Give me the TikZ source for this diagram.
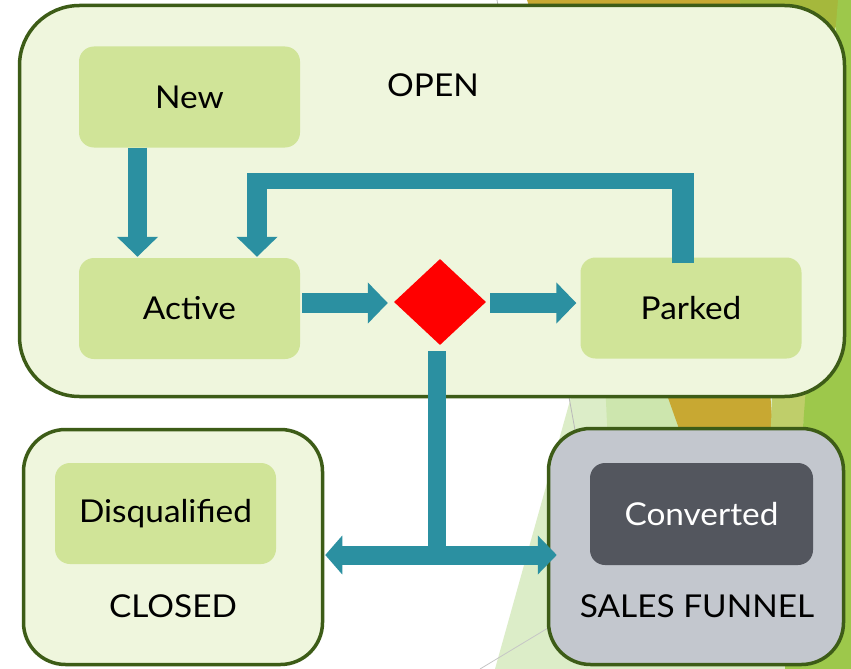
\documentclass[tikz,border=0pt]{standalone}
\usepackage{fontspec}
\setmainfont{Lato}[FakeStretch=1.06]
\usetikzlibrary{arrows.meta,shapes.geometric}
\definecolor{boxfill}{HTML}{EFF6DD}
\definecolor{boxline}{HTML}{3D5C17}
\definecolor{statefill}{HTML}{D0E498}
\definecolor{salesfill}{HTML}{C3C7CE}
\definecolor{convfill}{HTML}{53565E}
\definecolor{teal}{HTML}{2B90A1}
\definecolor{bglight}{HTML}{DCEDC8}
\definecolor{bgmid}{HTML}{CDE6AE}
\definecolor{bggold}{HTML}{C8A832}
\definecolor{bgtan}{HTML}{BFCE6A}
\definecolor{bgolive}{HTML}{A5B83C}
\definecolor{bggreen}{HTML}{9DC84B}
\tikzset{
  outerbox/.style={draw=boxline, line width=3.5pt, rounded corners=#1, inner sep=0pt},
  statebox/.style={fill=statefill, rounded corners=15pt, minimum width=221pt, minimum height=101pt, inner sep=0pt, font=\fontsize{31.5}{37}\selectfont},
  lbl/.style={font=\fontsize{31.5}{37}\selectfont, inner sep=0pt, anchor=base},
  flow/.style={draw=teal, line width=20pt},
  flowtip/.style={-{Triangle[length=20pt,width=40pt]}},
}
\begin{document}
\begin{tikzpicture}[x=1pt,y=-1pt]
\useasboundingbox (0,0) rectangle (851,669);
\fill[white] (0,0) rectangle (851,669);
% background decoration
\fill[bglight] (495,669) -- (640,150) -- (851,150) -- (851,669) -- cycle;
\fill[bgmid] (605,380) -- (680,380) -- (690,445) -- (608,445) -- cycle;
\fill[bggold] (527,0) -- (740,0) -- (773,430) -- (683,440) -- cycle;
\fill[bgtan] (773,380) -- (810,380) -- (800,445) -- (770,445) -- cycle;
\fill[bgolive] (740,0) -- (842,0) -- (835,30) -- (742,30) -- cycle;
\fill[bggreen] (838,0) -- (851,0) -- (851,669) -- (785,669) -- (805,400) -- cycle;
\draw[gray!55, line width=0.8pt] (497,0) -- (575,430);
\draw[gray!45, line width=0.8pt] (480,669) -- (548,628);
% outer boxes
\node[outerbox=60pt, fill=boxfill, minimum width=825pt, minimum height=391pt] (open) at (432,201) {};
\node[outerbox=42pt, fill=boxfill, minimum width=299pt, minimum height=235pt] (closed) at (173,547) {};
\node[outerbox=42pt, fill=salesfill, minimum width=295pt, minimum height=236pt] (sales) at (696,546.5) {};
% states
\node[statebox] (new) at (189.5,97) {New};
\node[statebox] (active) at (189.5,308.5) {Active};
\node[statebox] (parked) at (691,308) {Parked};
\node[statebox] (disq) at (165.5,513.5) {Disqualified};
\node[statebox, fill=convfill, text=white, minimum width=223pt, minimum height=102pt] (conv) at (701.5,514) {Converted};
\node[diamond, fill=red, minimum width=92pt, minimum height=86pt, inner sep=0pt] (dec) at (440,302) {};
% labels
\node[lbl] (openlbl) at (433,96) {OPEN};
\node[lbl] (closedlbl) at (173,617) {CLOSED};
\node[lbl] (saleslbl) at (697,617) {SALES FUNNEL};
% helper coordinates
\coordinate (row) at (0,303);
\coordinate (lt) at (257,181);
\coordinate (rt) at (683,181);
\coordinate (junc) at (437,555);
% connectors
\draw[flow, line width=19pt, flowtip] ([xshift=-52pt]new.south) -- ([xshift=-52pt,yshift=1pt]active.north);
\draw[draw=teal, line width=16pt] ([xshift=-10pt]lt) -- ([xshift=11pt]rt);
\draw[draw=teal, line width=22pt] ([yshift=-6pt]parked.north -| rt) -- ([yshift=8pt]rt);
\draw[flow, flowtip] ([yshift=8pt]lt) -- ([yshift=1pt]active.north -| lt);
\draw[flow, flowtip] ([xshift=2pt]active.east |- row) -- ([xshift=-6pt]dec.west |- row);
\draw[flow, flowtip] ([xshift=4pt]dec.east |- row) -- ([xshift=-4pt]parked.west |- row);
\draw[draw=teal, line width=18pt] ([yshift=-6pt]dec.south -| junc) -- ([yshift=-10pt]junc);
\draw[flow, line width=19pt, {Triangle[length=17pt,width=38pt]}-{Triangle[length=19pt,width=38pt]}] ([xshift=1pt]closed.east |- junc) -- ([xshift=10pt]sales.west |- junc);
\end{tikzpicture}
\end{document}
